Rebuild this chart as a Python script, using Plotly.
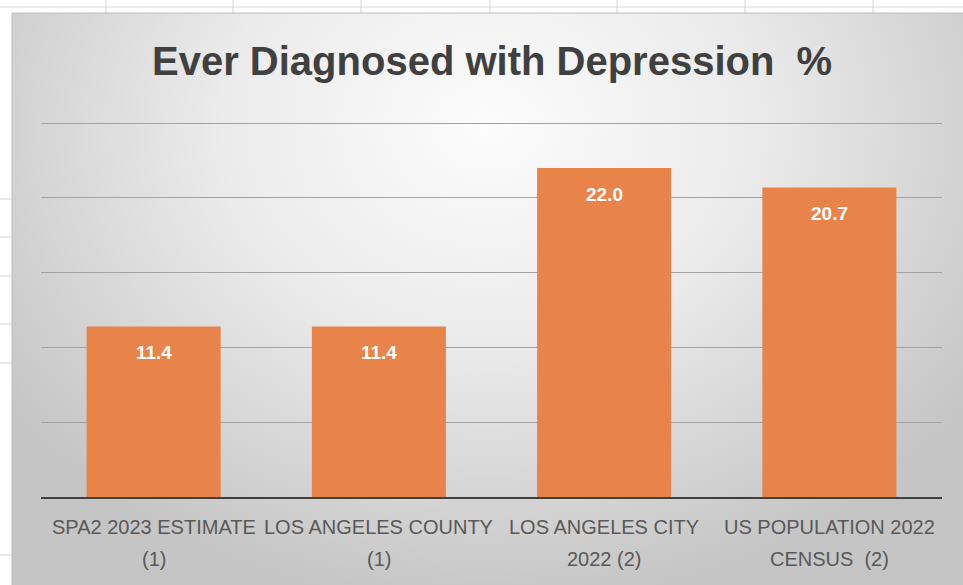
import base64
import plotly.graph_objects as go

# Chart data
line1 = ["SPA2 2023 ESTIMATE", "LOS ANGELES COUNTY", "LOS ANGELES CITY", "US POPULATION 2022"]
line2 = ["(1)", "(1)", "2022 (2)", "CENSUS  (2)"]
categories = ["SPA2", "LA County", "LA City", "US"]
values = [11.4, 11.4, 22.0, 20.7]
value_text = ["11.4", "11.4", "22.0", "20.7"]

W, H = 963, 585
ML, MR, MT, MB = 41, 21, 122, 88
PW, PH = W - ML - MR, H - MT - MB

NARROW = "Liberation Sans Narrow, Arial Narrow, Liberation Sans, Arial, sans-serif"
BAR = "#E8834A"


def px_x(px):
    return (px - ML) / PW


def px_y(py):
    return (H - MB - py) / PH


# Radial grey panel background as an inline SVG
svg = (
    '<svg xmlns="http://www.w3.org/2000/svg" width="951" height="572" viewBox="0 0 951 572" preserveAspectRatio="none">'
    '<defs><radialGradient id="g" cx="0.5" cy="0.2" r="0.62" fx="0.5" fy="0.2" '
    'gradientTransform="translate(0.5 0.2) scale(1 1.35) translate(-0.5 -0.2)">'
    '<stop offset="0" stop-color="#fcfcfc"/><stop offset="0.45" stop-color="#ebebeb"/>'
    '<stop offset="1" stop-color="#c5c5c5"/></radialGradient></defs>'
    '<rect width="951" height="572" fill="url(#g)"/></svg>'
)
bg_uri = "data:image/svg+xml;base64," + base64.b64encode(svg.encode()).decode()

fig = go.Figure(
    go.Bar(
        x=categories,
        y=values,
        marker=dict(color=BAR, line=dict(width=0)),
        width=0.595,
        hoverinfo="skip",
    )
)

shapes = []
# spreadsheet cell lines around the chart object
shapes.append(dict(type="line", xref="paper", yref="paper", x0=px_x(0), x1=px_x(W),
                   y0=px_y(7), y1=px_y(7), line=dict(color="#dadada", width=1), layer="below"))
for cx in [106, 233, 361, 490, 617, 745, 873]:
    shapes.append(dict(type="line", xref="paper", yref="paper", x0=px_x(cx), x1=px_x(cx),
                       y0=px_y(0), y1=px_y(13), line=dict(color="#d4d4d4", width=1), layer="below"))
for ry in [199, 237, 276, 324, 363, 555]:
    shapes.append(dict(type="line", xref="paper", yref="paper", x0=px_x(0), x1=px_x(12),
                       y0=px_y(ry), y1=px_y(ry), line=dict(color="#d4d4d4", width=1), layer="below"))
# chart object border
shapes.append(dict(type="rect", xref="paper", yref="paper", x0=px_x(12), x1=px_x(W + 2),
                   y0=px_y(H + 2), y1=px_y(13), line=dict(color="#bdbdbd", width=1),
                   fillcolor="rgba(0,0,0,0)", layer="below"))

annotations = []
for c, v, t in zip(categories, values, value_text):
    annotations.append(dict(x=c, y=v, xref="x", yref="y", text="<b>%s</b>" % t, showarrow=False,
                            xanchor="center", yanchor="middle", yshift=-26,
                            font=dict(family=NARROW, size=19, color="#ffffff")))
for c, a, b in zip(categories, line1, line2):
    annotations.append(dict(x=c, y=px_y(527), xref="x", yref="paper", text=a, showarrow=False,
                            xanchor="center", yanchor="middle",
                            font=dict(family=NARROW, size=20, color="#595959")))
    annotations.append(dict(x=c, y=px_y(559), xref="x", yref="paper", text=b, showarrow=False,
                            xanchor="center", yanchor="middle",
                            font=dict(family=NARROW, size=20, color="#595959")))
annotations.append(dict(x=px_x(492), y=px_y(61), xref="paper", yref="paper",
                        text="<b>Ever Diagnosed with Depression  %</b>", showarrow=False,
                        xanchor="center", yanchor="middle",
                        font=dict(family=NARROW, size=40, color="#404040")))

fig.update_layout(
    width=W, height=H,
    margin=dict(l=ML, r=MR, t=MT, b=MB),
    paper_bgcolor="#ffffff",
    plot_bgcolor="rgba(0,0,0,0)",
    showlegend=False,
    bargap=0.405,
    shapes=shapes,
    annotations=annotations,
    images=[dict(source=bg_uri, xref="paper", yref="paper", x=px_x(12), y=px_y(13),
                 sizex=(W - 12) / PW, sizey=(H - 13) / PH, sizing="stretch",
                 xanchor="left", yanchor="top", layer="below")],
    xaxis=dict(showticklabels=False, showline=True, linecolor="#404040", linewidth=2,
               ticks="", showgrid=False, zeroline=False, fixedrange=True),
    yaxis=dict(range=[0, 25.08], dtick=5, showticklabels=False, showgrid=True,
               gridcolor="#a3a3a3", gridwidth=1, zeroline=False, showline=False,
               fixedrange=True),
)

fig.write_html("out.html")
